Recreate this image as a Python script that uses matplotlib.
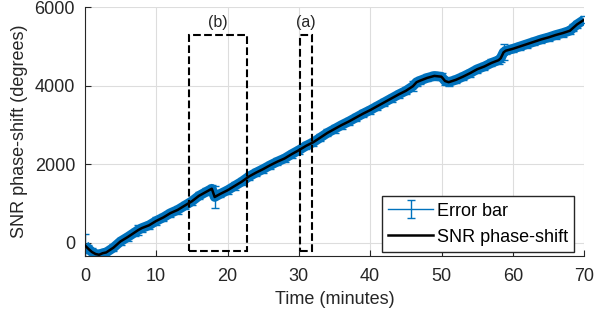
import numpy as np
import matplotlib.pyplot as plt
from matplotlib.patches import Rectangle

plt.rcParams['font.family'] = ['Liberation Sans', 'DejaVu Sans']

# время (мин) и набег фазы (градусы)
time_min = [0, 0.5, 1, 1.5, 2, 2.5, 3, 4, 5, 6, 7, 7.5, 8, 9, 10, 11, 12, 13, 14,
            15, 16, 17, 17.8, 18.2, 19, 20, 21, 22, 23, 24, 25, 26, 27, 28, 29,
            30, 31, 32, 33, 34, 35, 36, 37, 38, 39, 40, 41, 42, 43, 44, 45, 46,
            46.5, 47, 48, 49, 50, 50.5, 51, 52, 53, 54, 55, 56, 57, 58, 58.3,
            58.7, 59, 60, 61, 62, 63, 64, 65, 66, 67, 68, 68.5, 69, 70]
phase_deg = [-60, -150, -230, -280, -300, -260, -240, -120, 40, 150, 270, 330,
             380, 450, 560, 650, 760, 840, 950, 1060, 1200, 1300, 1380, 1170,
             1250, 1340, 1450, 1560, 1690, 1790, 1880, 1980, 2070, 2150, 2260,
             2360, 2470, 2560, 2680, 2800, 2900, 3000, 3090, 3190, 3290, 3380,
             3480, 3580, 3680, 3780, 3870, 3990, 4090, 4130, 4200, 4250, 4230,
             4120, 4090, 4150, 4230, 4320, 4420, 4490, 4580, 4650, 4700, 4850,
             4890, 4940, 5000, 5060, 5120, 5180, 5230, 5290, 5340, 5400, 5480,
             5560, 5680]
phase_err = [300, 100, 90, 90, 90, 90, 90, 90, 90, 90, 90, 120, 90, 90, 90, 90,
             90, 90, 90, 90, 90, 90, 90, 270, 90, 90, 90, 90, 90, 90, 90, 90, 90,
             90, 90, 90, 90, 90, 90, 90, 90, 90, 90, 90, 90, 90, 90, 90, 90, 90,
             90, 120, 90, 90, 90, 100, 90, 90, 90, 90, 90, 90, 90, 90, 90, 90,
             90, 200, 90, 90, 90, 90, 90, 90, 90, 90, 90, 90, 90, 90, 90]

# выделенные области (t0, t1, нижняя граница, верхняя граница)
box_b = (14.6, 22.7, -200, 5300)
box_a = (30.2, 31.8, -200, 5300)

blue = '#0072BD'
grey = '#262626'

fig = plt.figure(figsize=(6.06, 3.24), dpi=100)
ax = fig.add_axes([0.140, 0.210, 0.824, 0.768])

# плотная полоса погрешностей
ax.plot(time_min, phase_deg, color=blue, lw=7, solid_capstyle='butt', zorder=2)
eb = ax.errorbar(time_min, phase_deg, yerr=phase_err, color=blue, lw=1,
                 elinewidth=1, capsize=3, capthick=1, label='Error bar', zorder=2)
ln, = ax.plot(time_min, phase_deg, color='black', lw=1.8, label='SNR phase-shift',
              zorder=3)

for t0, t1, y0, y1 in (box_b, box_a):
    ax.add_patch(Rectangle((t0, y0), t1 - t0, y1 - y0, fill=False, ls='--',
                           lw=1.5, ec='black', zorder=4))
ax.text((box_b[0] + box_b[1]) / 2, 5620, '(b)', ha='center', va='center',
        fontsize=11.5, color=grey)
ax.text((box_a[0] + box_a[1]) / 2, 5620, '(a)', ha='center', va='center',
        fontsize=11.5, color=grey)

ax.set_xlim(0, 70)
ax.set_ylim(-330, 6000)
ax.set_xticks([0, 10, 20, 30, 40, 50, 60, 70])
ax.set_yticks([0, 2000, 4000, 6000])
ax.grid(True, color='#dddddd', lw=0.8)
ax.set_axisbelow(True)
for s in ('top', 'right'):
    ax.spines[s].set_visible(False)
for s in ('left', 'bottom'):
    ax.spines[s].set_color(grey)
ax.tick_params(direction='in', labelsize=13, colors=grey, length=4)
ax.tick_params(axis='x', pad=9)
ax.tick_params(axis='y', pad=7)
ax.set_xlabel('Time (minutes)', fontsize=13, color=grey, labelpad=4)
ax.set_ylabel('SNR phase-shift (degrees)', fontsize=13, color=grey, labelpad=5)

leg = ax.legend([eb, ln], ['Error bar', 'SNR phase-shift'], loc='lower right',
                bbox_to_anchor=(0.980, 0.016), fontsize=13, fancybox=False,
                framealpha=1, edgecolor=grey, borderpad=0.35, handlelength=2.5,
                handletextpad=0.2, labelspacing=0.5, borderaxespad=0)
leg.get_frame().set_linewidth(1)

fig.savefig('out.png', dpi=100)
